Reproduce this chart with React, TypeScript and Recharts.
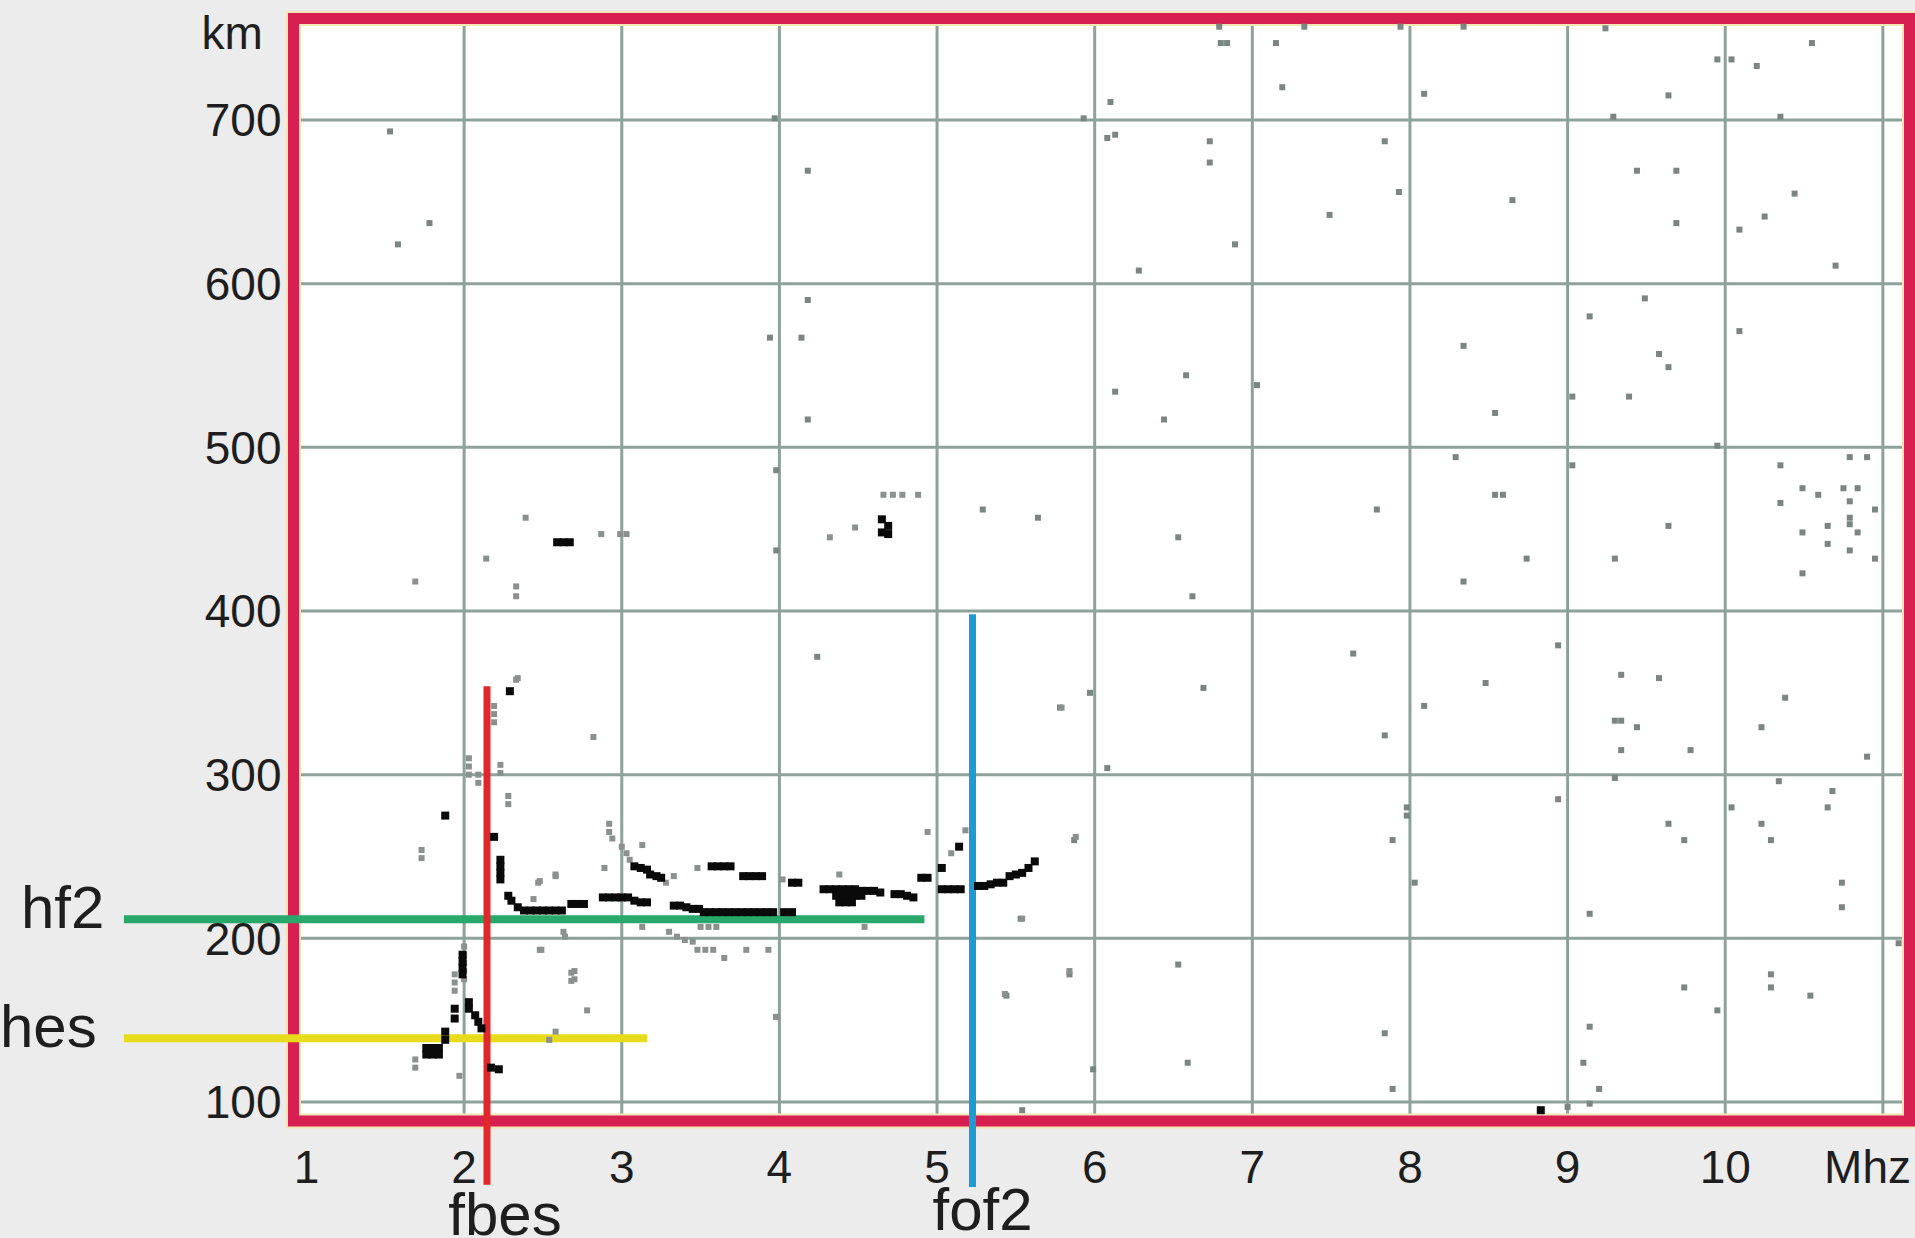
import React from "react";
import {
  ScatterChart,
  Scatter,
  XAxis,
  YAxis,
  CartesianGrid,
  ReferenceArea,
  ReferenceLine,
} from "recharts";

// frequency (MHz) / virtual height (km)
const freqTicks = [1, 2, 3, 4, 5, 6, 7, 8, 9, 10, 11];
const freqGrid = [2, 3, 4, 5, 6, 7, 8, 9, 10, 11];
const heightTicks = [100, 200, 300, 400, 500, 600, 700];
const freqDomain = [0.9175, 11.169];
const heightDomain = [88.4, 762];

// scattered noise pixels, [MHz, km]
const noiseUpper: [number, number][] = [
  [6.79, 757], [6.8, 747], [6.84, 747], [7.15, 747], [7.19, 720], [7.33, 757],
  [7.94, 757], [8.09, 716], [8.34, 757], [9.24, 756], [9.95, 737], [10.04, 737],
  [10.2, 733], [10.55, 747], [9.64, 715], [9.29, 702], [10.35, 702], [3.97, 701],
  [1.53, 693], [1.78, 637], [1.58, 624], [4.18, 669], [5.93, 701], [6.1, 711],
  [6.13, 691], [6.08, 689], [6.73, 687], [6.73, 674], [6.89, 624], [6.28, 608],
  [7.84, 687], [7.93, 656], [7.49, 642], [8.65, 651], [9.44, 669], [9.69, 669],
  [9.69, 637], [10.44, 655], [10.25, 641], [10.09, 633], [10.7, 611], [9.49, 591],
  [4.18, 590], [3.94, 567], [4.14, 567], [4.18, 517], [6.13, 534], [6.58, 544],
  [6.44, 517], [7.03, 538], [8.34, 562], [8.54, 521], [9.14, 580], [9.58, 557],
  [9.64, 549], [9.39, 531], [9.03, 531], [10.09, 571], [9.95, 501],
];

const noiseMiddle: [number, number][] = [
  [3.98, 486], [3.98, 437], [5.29, 462], [5.64, 457], [6.53, 445], [6.62, 409],
  [7.79, 462], [8.29, 494], [8.54, 471], [8.59, 471], [8.34, 418], [8.74, 432],
  [9.03, 489], [9.3, 432], [9.64, 452], [10.79, 494], [10.9, 494], [10.35, 489],
  [10.49, 475], [10.59, 471], [10.75, 475], [10.84, 475], [10.35, 466], [10.79, 467],
  [10.95, 462], [10.79, 457], [10.79, 453], [10.65, 452], [10.49, 448], [10.84, 448],
  [10.65, 441], [10.79, 437], [10.95, 432], [10.49, 423],
  [4.24, 372], [5.78, 341], [5.97, 350], [6.08, 304], [6.69, 353], [7.64, 374],
  [8.09, 342], [8.48, 356], [7.84, 324], [8.94, 379], [9.34, 361], [9.44, 329],
  [9.3, 333], [9.34, 333], [9.34, 315], [9.58, 359], [9.78, 315], [10.23, 329],
  [10.38, 347], [10.34, 296], [10.9, 311], [9.3, 298], [8.94, 285],
];

const noiseLower: [number, number][] = [
  [5.87, 260], [5.53, 212], [7.89, 260], [7.98, 280], [7.98, 275], [8.03, 234],
  [9.14, 215], [9.64, 270], [9.74, 260], [10.04, 280], [10.23, 270], [10.29, 260],
  [10.65, 280], [10.68, 290], [10.74, 234], [10.74, 219], [11.1, 197],
  [5.84, 178], [5.44, 165], [6.53, 184], [6.59, 124], [7.84, 142], [7.89, 108],
  [9.14, 146], [9.1, 124], [9.2, 108], [9.74, 170], [9.95, 156], [10.29, 178],
  [10.29, 170], [10.54, 165], [5.99, 120], [9.14, 99], [9.0, 97], [5.54, 95],
  [3.98, 152],
];

// grey echoes around the E and F traces
const traceGrey: [number, number][] = [
  [1.69, 418], [2.14, 432], [2.39, 457], [2.33, 415], [2.33, 409], [2.87, 447],
  [2.99, 447], [3.03, 447], [2.33, 358], [4.66, 471], [4.72, 471], [4.78, 471],
  [4.88, 471], [4.48, 451], [4.32, 445],
  [2.0, 195], [2.0, 190], [2.0, 185], [2.0, 180], [2.0, 175], [1.94, 178],
  [1.94, 173], [1.94, 168], [1.69, 126], [1.69, 121], [1.73, 254], [1.73, 249],
  [1.97, 116], [2.03, 310], [2.03, 305], [2.03, 300], [2.09, 300], [2.09, 295],
  [2.23, 306], [2.23, 301], [2.28, 287], [2.28, 282], [2.82, 323], [2.7, 180],
  [2.7, 175], [2.78, 156], [2.58, 143], [2.54, 138], [2.48, 193], [2.64, 201],
  [2.48, 235], [2.58, 238], [2.44, 224], [2.89, 243], [3.13, 257], [3.13, 207],
  [2.92, 270], [2.92, 265], [2.19, 342], [2.19, 337], [2.19, 332], [2.34, 359],
  [2.94, 261], [3.0, 256], [3.03, 252], [3.05, 248], [3.3, 204], [3.35, 201],
  [3.4, 199], [3.45, 198], [3.48, 193], [3.53, 193], [3.58, 193], [3.65, 188],
  [3.79, 193], [3.93, 193], [3.5, 207], [3.55, 207], [3.6, 207], [4.54, 207],
  [2.49, 193], [2.63, 204], [2.68, 179], [2.68, 174], [3.98, 152], [5.54, 212],
  [5.84, 180], [5.43, 166], [5.79, 341], [5.88, 262], [4.94, 265], [5.18, 266],
  [4.38, 239], [4.02, 236], [3.48, 243], [2.58, 239], [2.47, 234], [3.33, 238],
  [3.28, 234], [5.09, 252],
];

// dark echoes: Es cusp and the F2 trace
const traceBlack: [number, number][] = [
  [1.76, 133], [1.8, 133], [1.84, 133], [1.76, 129], [1.8, 129], [1.84, 129],
  [1.88, 143], [1.88, 138], [1.94, 157], [1.94, 151], [1.99, 178], [1.99, 182],
  [1.99, 186], [1.99, 190], [2.03, 161], [2.03, 157], [2.07, 153], [2.09, 149],
  [2.11, 145], [2.17, 121], [2.22, 120], [1.88, 275],
  [2.29, 351], [2.19, 262], [2.23, 248], [2.23, 244], [2.23, 240], [2.23, 236],
  [2.28, 226], [2.3, 223], [2.34, 219], [2.38, 217], [2.42, 217], [2.46, 217],
  [2.5, 217], [2.54, 217], [2.58, 217], [2.62, 217], [2.68, 221], [2.72, 221],
  [2.76, 221], [2.88, 225], [2.92, 225], [2.96, 225], [3.0, 225], [3.04, 225],
  [3.08, 223], [3.12, 222], [3.16, 222], [3.33, 220], [3.37, 220], [3.41, 219],
  [3.45, 218], [3.49, 218], [3.52, 216], [3.56, 216], [3.6, 216], [3.64, 216],
  [3.68, 216], [3.72, 216], [3.76, 216], [3.8, 216], [3.84, 216], [3.88, 216],
  [3.92, 216], [3.96, 216], [4.03, 216], [4.08, 216],
  [3.08, 244], [3.12, 243], [3.16, 242], [3.18, 239], [3.22, 238], [3.25, 237],
  [3.57, 244], [3.61, 244], [3.65, 244], [3.69, 244], [3.77, 238], [3.81, 238],
  [3.85, 238], [3.89, 238], [4.08, 234], [4.12, 234],
  [4.28, 230], [4.32, 230], [4.36, 230], [4.4, 230], [4.44, 230], [4.48, 230],
  [4.52, 229], [4.56, 229], [4.6, 229], [4.64, 228], [4.36, 226], [4.4, 226],
  [4.44, 226], [4.48, 226], [4.52, 226], [4.38, 222], [4.42, 222], [4.46, 222],
  [4.73, 227], [4.77, 227], [4.81, 226], [4.85, 225], [4.9, 237], [4.94, 237],
  [5.03, 243], [5.14, 256], [5.03, 230], [5.07, 230], [5.11, 230], [5.15, 230],
  [5.26, 232], [5.3, 232], [5.34, 233], [5.38, 234], [5.42, 234], [5.46, 238],
  [5.5, 239], [5.54, 240], [5.58, 243], [5.62, 247],
  [2.59, 442], [2.63, 442], [2.67, 442], [4.65, 456], [4.69, 452], [4.69, 447],
  [4.65, 448], [8.83, 95],
];

// scaled parameters
const hf2 = 211.6;
const hes = 138.9;
const fbes = 2.145;
const fof2 = 5.225;

const toPoints = (rows: [number, number][]) => rows.map(([f, h]) => ({ f, h }));

const FONT = "'Liberation Sans', Arial, Helvetica, sans-serif";

const square = (color: string, size: number) => (props: any) => (
  <rect
    x={props.cx - size / 2}
    y={props.cy - size / 2}
    width={size}
    height={size}
    fill={color}
  />
);

const FreqTick = (props: any) => {
  const { x, y, payload } = props;
  if (payload.value === 11) {
    return (
      <text x={1911} y={y} dy="0.71em" textAnchor="end" fontSize={46} fontFamily={FONT} fill="#1e1e1e">
        Mhz
      </text>
    );
  }
  return (
    <text x={x} y={y} dy="0.71em" textAnchor="middle" fontSize={46} fontFamily={FONT} fill="#1e1e1e">
      {payload.value}
    </text>
  );
};

const HeightTick = (props: any) => {
  const { x, y, payload } = props;
  return (
    <text x={x} y={y} dy="0.355em" textAnchor="end" fontSize={46} fontFamily={FONT} fill="#1e1e1e">
      {payload.value}
    </text>
  );
};

const lineLabel = (text: string, dx: number, dy: number, anchor: string, fromBottom: boolean) =>
  (props: any) => {
    const vb = props.viewBox || {};
    const y = fromBottom ? vb.y + vb.height + dy : vb.y + dy;
    return (
      <text x={vb.x + dx} y={y} textAnchor={anchor} fontSize={60} fontFamily={FONT} fill="#1e1e1e">
        {text}
      </text>
    );
  };

export default function App() {
  return (
    <div
      style={{
        position: "absolute",
        left: 0,
        top: 0,
        width: 1915,
        height: 1238,
        background: "#ececec",
        overflow: "hidden",
      }}
    >
      <ScatterChart
        width={1915}
        height={1238}
        margin={{ top: 18.5, right: 5.5, bottom: 57, left: 233.5 }}
      >
        <CartesianGrid
          fill="#ffffff"
          stroke="#8da29a"
          strokeWidth={3}
          verticalValues={freqGrid}
          horizontalValues={heightTicks}
        />
        <XAxis
          type="number"
          dataKey="f"
          domain={freqDomain}
          ticks={freqTicks}
          allowDataOverflow
          axisLine={false}
          tickLine={false}
          tickSize={0}
          tickMargin={29}
          height={60}
          interval={0}
          tick={<FreqTick />}
        />
        <YAxis
          type="number"
          dataKey="h"
          domain={heightDomain}
          ticks={heightTicks}
          allowDataOverflow
          axisLine={false}
          tickLine={false}
          tickSize={0}
          tickMargin={12}
          width={60}
          interval={0}
          tick={<HeightTick />}
          label={{
            value: "km",
            content: (p: any) => {
              const vb = p.viewBox || { x: 233.5, y: 18.5 };
              return (
                <text x={vb.x - 32} y={vb.y + 30} fontSize={46} fontFamily={FONT} fill="#1e1e1e">
                  km
                </text>
              );
            },
          }}
        />
        <Scatter data={toPoints(noiseUpper)} shape={square("#7b8581", 6)} isAnimationActive={false} />
        <Scatter data={toPoints(noiseMiddle)} shape={square("#7b8581", 6)} isAnimationActive={false} />
        <Scatter data={toPoints(noiseLower)} shape={square("#7b8581", 6)} isAnimationActive={false} />
        <Scatter data={toPoints(traceGrey)} shape={square("#8a918e", 6)} isAnimationActive={false} />
        <Scatter data={toPoints(traceBlack)} shape={square("#0a0a0a", 8)} isAnimationActive={false} />
        <ReferenceArea
          x1={freqDomain[0]}
          x2={freqDomain[1]}
          y1={heightDomain[0]}
          y2={heightDomain[1]}
          fill="none"
          fillOpacity={0}
          stroke="#f2e6b4"
          strokeWidth={15}
          ifOverflow="visible"
        />
        <ReferenceArea
          x1={freqDomain[0]}
          x2={freqDomain[1]}
          y1={heightDomain[0]}
          y2={heightDomain[1]}
          fill="none"
          fillOpacity={0}
          stroke="#d81f52"
          strokeWidth={11}
          ifOverflow="visible"
        />
        <ReferenceLine
          segment={[{ x: -0.158, y: hf2 }, { x: 4.92, y: hf2 }]}
          stroke="#28a86b"
          strokeWidth={8}
          ifOverflow="visible"
          label={{ content: lineLabel("hf2", -103, 9, "start", false) }}
        />
        <ReferenceLine
          segment={[{ x: -0.158, y: hes }, { x: 3.16, y: hes }]}
          stroke="#e7dc1b"
          strokeWidth={8}
          ifOverflow="visible"
          label={{ content: lineLabel("hes", -124, 9, "start", false) }}
        />
        <ReferenceLine
          segment={[{ x: fbes, y: 354 }, { x: fbes, y: 49.5 }]}
          stroke="#e0282b"
          strokeWidth={7}
          ifOverflow="visible"
          label={{ content: lineLabel("fbes", 18, 50, "middle", true) }}
        />
        <ReferenceLine
          segment={[{ x: fof2, y: 398 }, { x: fof2, y: 48 }]}
          stroke="#1f9bd3"
          strokeWidth={7}
          ifOverflow="visible"
          label={{ content: lineLabel("fof2", 10, 43, "middle", true) }}
        />
      </ScatterChart>
    </div>
  );
}
